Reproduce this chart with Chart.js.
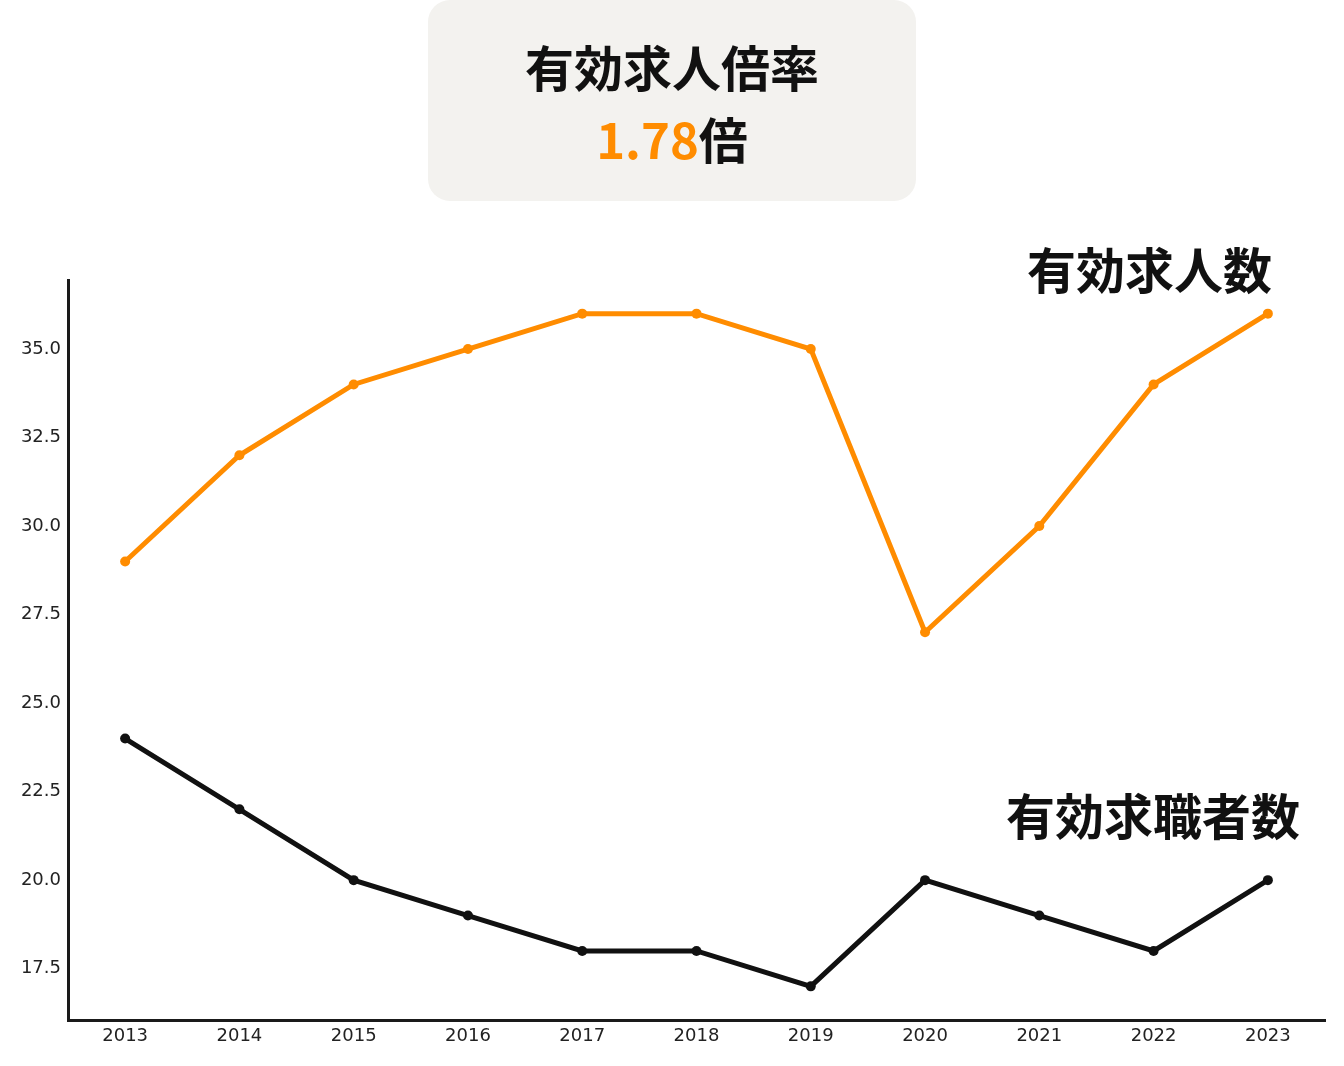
<!DOCTYPE html>
<html>
<head>
<meta charset="utf-8">
<script src="https://cdn.jsdelivr.net/npm/chart.js@4"></script>
<style>
  body { margin: 0; background: #fff; }
  #wrap { position: relative; width: 1344px; height: 1066px; font-family: "Noto Sans CJK JP", sans-serif; }
  #chart { position: absolute; left: 0; top: 0; }
  .box { position: absolute; left: 428px; top: 0; width: 488px; height: 201px; background: #f3f2ef; border-radius: 22px; text-align: center; }
  .box .t1 { position: absolute; left: 0; right: 0; top: 41px; font-size: 49px; font-weight: 700; color: #111; line-height: 1; }
  .box .t2 { position: absolute; left: 0; right: 0; top: 113px; font-size: 49px; font-weight: 700; color: #111; line-height: 1; }
  .box .t2 span { color: #ff8c00; }
  .lbl { position: absolute; font-size: 49px; font-weight: 700; color: #111; line-height: 1; white-space: nowrap; }
</style>
</head>
<body>
<div id="wrap">
  <canvas id="chart" width="1344" height="1066"></canvas>
  <div class="box">
    <div class="t1">有効求人倍率</div>
    <div class="t2"><span>1.78</span>倍</div>
  </div>
  <div class="lbl" style="left:1027px; top:243px;">有効求人数</div>
  <div class="lbl" style="left:1006px; top:789px;">有効求職者数</div>
</div>
<script>
// 年ごとのデータ（万人）
const years = ['2013', '2014', '2015', '2016', '2017', '2018', '2019', '2020', '2021', '2022', '2023'];
const jobOffers = [29, 32, 34, 35, 36, 36, 35, 27, 30, 34, 36];
const jobSeekers = [24, 22, 20, 19, 18, 18, 17, 20, 19, 18, 20];

const ctx = document.getElementById('chart').getContext('2d');

new Chart(ctx, {
  type: 'line',
  data: {
    labels: years,
    datasets: [
      {
        label: '有効求人数',
        data: jobOffers,
        borderColor: '#ff8c00',
        backgroundColor: '#ff8c00',
        borderWidth: 5,
        pointRadius: 5,
        pointBorderWidth: 0,
        fill: false,
        tension: 0,
      },
      {
        label: '有効求職者数',
        data: jobSeekers,
        borderColor: '#111111',
        backgroundColor: '#111111',
        borderWidth: 5,
        pointRadius: 5,
        pointBorderWidth: 0,
        fill: false,
        tension: 0,
      },
    ],
  },
  options: {
    responsive: false,
    animation: false,
    layout: { padding: { top: 280, right: 19, left: 0, bottom: 0 } },
    plugins: {
      legend: { display: false },
      tooltip: { enabled: false },
    },
    scales: {
      x: {
        offset: true,
        grid: { display: false, drawTicks: false },
        border: { display: true, color: '#1a1a1a', width: 3 },
        ticks: { color: '#222', font: { family: 'DejaVu Sans', size: 18 }, padding: 6, maxRotation: 0 },
        afterFit: (scale) => { scale.height = 46; },
      },
      y: {
        min: 16.05,
        max: 36.95,
        grid: { display: false, drawTicks: false },
        border: { display: true, color: '#1a1a1a', width: 3 },
        ticks: {
          stepSize: 2.5,
          color: '#222',
          font: { family: 'DejaVu Sans', size: 18 },
          padding: 7,
          callback: (v) => v.toFixed(1),
        },
        afterBuildTicks: (scale) => {
          scale.ticks = scale.ticks.filter((t) => Math.abs(t.value / 2.5 - Math.round(t.value / 2.5)) < 1e-6);
        },
        afterFit: (scale) => { scale.width = 68; },
      },
    },
  },
});
</script>
</body>
</html>
